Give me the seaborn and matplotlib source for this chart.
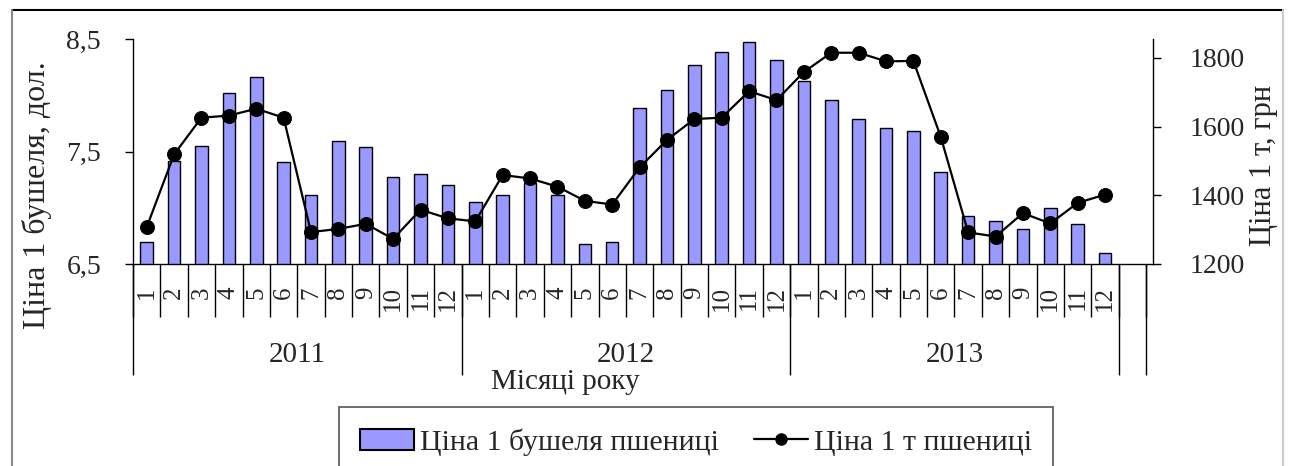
import numpy as np
import pandas as pd
import matplotlib.pyplot as plt
import seaborn as sns
from matplotlib.lines import Line2D
from matplotlib.patches import Patch
from matplotlib.ticker import FuncFormatter

# monthly prices 2011-2013
years = ["2011", "2012", "2013"]
months = [str(m) for m in range(1, 13)]

bushel_price = [6.70, 7.42, 7.55, 8.02, 8.16, 7.41, 7.11, 7.59, 7.54, 7.27, 7.30, 7.20,
                7.05, 7.11, 7.22, 7.11, 6.68, 6.70, 7.89, 8.05, 8.27, 8.38, 8.47, 8.31,
                8.13, 7.96, 7.79, 7.71, 7.68, 7.32, 6.93, 6.88, 6.81, 7.00, 6.86, 6.60]
tonne_price = [1307, 1519, 1626, 1632, 1652, 1626, 1293, 1302, 1317, 1273, 1358, 1333,
               1324, 1459, 1449, 1425, 1384, 1373, 1481, 1561, 1622, 1626, 1703, 1677,
               1759, 1815, 1815, 1790, 1791, 1570, 1292, 1280, 1348, 1318, 1378, 1402]

df = pd.DataFrame({
    "pos": np.arange(len(bushel_price)),
    "month": months * len(years),
    "bushel": bushel_price,
    "tonne": tonne_price,
})

sns.set_style("ticks")
plt.rcParams["font.family"] = ["Liberation Serif", "DejaVu Serif"]
fs = 20

fig = plt.figure(figsize=(12.93, 4.66), dpi=100)
ax = fig.add_axes([133 / 1293, 1 - 264 / 466, 1020 / 1293, 225 / 466])

sns.barplot(data=df, x="pos", y="bushel", native_scale=True, width=0.46,
            color="#9999ff", saturation=1, edgecolor="black", linewidth=1, ax=ax)

ax2 = ax.twinx()
sns.lineplot(data=df, x="pos", y="tonne", color="black", linewidth=1.6,
             marker="o", markersize=10, markeredgecolor="black", ax=ax2)

ax.set_ylim(6.5, 8.5)
ax.set_xlim(-0.5, 36.75)
ax.set_yticks([6.5, 7.5, 8.5])
ax.yaxis.set_major_formatter(FuncFormatter(lambda v, p: f"{v:.1f}".replace(".", ",")))
ax.tick_params(axis="y", labelsize=fs, length=6, width=1, color="black", pad=17)
ax.set_xlabel("")
ax.set_ylabel("")

ax2.set_ylim(1200, 1855)
ax2.set_yticks([1200, 1400, 1600, 1800])
ax2.tick_params(axis="y", labelsize=fs, length=6, width=1, color="black", pad=20)
ax2.set_xlabel("")
ax2.set_ylabel("")

# month separators, month labels written vertically under each bar
ax.set_xticks([])
ax.set_xticks(np.arange(-0.5, 37, 1), minor=True)
ax.tick_params(axis="x", which="minor", length=38, width=1, color="black",
               labelbottom=False)
for p, m in zip(df["pos"], df["month"]):
    ax.annotate(m, xy=(p, 0), xycoords=ax.get_xaxis_transform(),
                xytext=(0, -16), textcoords="offset points",
                rotation=90, ha="center", va="top", fontsize=18)

# year groups
sec = ax.secondary_xaxis("bottom")
sec.set_xticks([-0.5, 11.5, 23.5, 35.5, 36.5], ["", "", "", "", ""])
sec.tick_params(axis="x", which="major", length=80, width=1, color="black")
sec.set_xticks([5.5, 17.5, 29.5], years, minor=True)
sec.tick_params(axis="x", which="minor", length=0, labelsize=21, pad=56)
sec.spines["bottom"].set_visible(False)

for a in (ax, ax2):
    a.spines["top"].set_visible(False)
    for s in a.spines.values():
        s.set_color("black")
        s.set_linewidth(1)
ax.spines["right"].set_visible(False)
ax2.spines["left"].set_visible(False)
ax2.spines["bottom"].set_visible(False)

fig.text(37 / 1293, 1 - 195 / 466, "Ціна 1 бушеля, дол.", rotation=90,
         ha="center", va="center", fontsize=23)
fig.text(1263 / 1293, 1 - 165 / 466, "Ціна 1 т, грн", rotation=90,
         ha="center", va="center", fontsize=22)
fig.text(565 / 1293, 1 - 382 / 466, "Місяці року", ha="center", va="center", fontsize=21)

handles = [Patch(facecolor="#9999ff", edgecolor="black", linewidth=1.5),
           Line2D([], [], color="black", marker="o", markersize=8, linewidth=1.6)]
leg = fig.legend(handles, ["Ціна 1 бушеля пшениці", "Ціна 1 т пшениці"], loc="center",
                 bbox_to_anchor=(696 / 1293, 1 - 442 / 466), ncol=2, fontsize=21.5,
                 frameon=True, fancybox=False, edgecolor="#555555", framealpha=1,
                 handlelength=1.8, handletextpad=0.2, columnspacing=1.2,
                 borderpad=0.7)
leg.get_frame().set_linewidth(1.2)

# outer frame
fig.add_artist(Line2D([12 / 1293, 1283 / 1293], [1 - 10 / 466, 1 - 10 / 466],
                      color="black", linewidth=1.5, transform=fig.transFigure))
fig.add_artist(Line2D([12 / 1293, 12 / 1293], [1 - 10 / 466, 0],
                      color="#888888", linewidth=1.5, transform=fig.transFigure))
fig.add_artist(Line2D([1283 / 1293, 1283 / 1293], [1 - 10 / 466, 0],
                      color="#cccccc", linewidth=1.5, transform=fig.transFigure))

plt.savefig("out.png", dpi=100)
